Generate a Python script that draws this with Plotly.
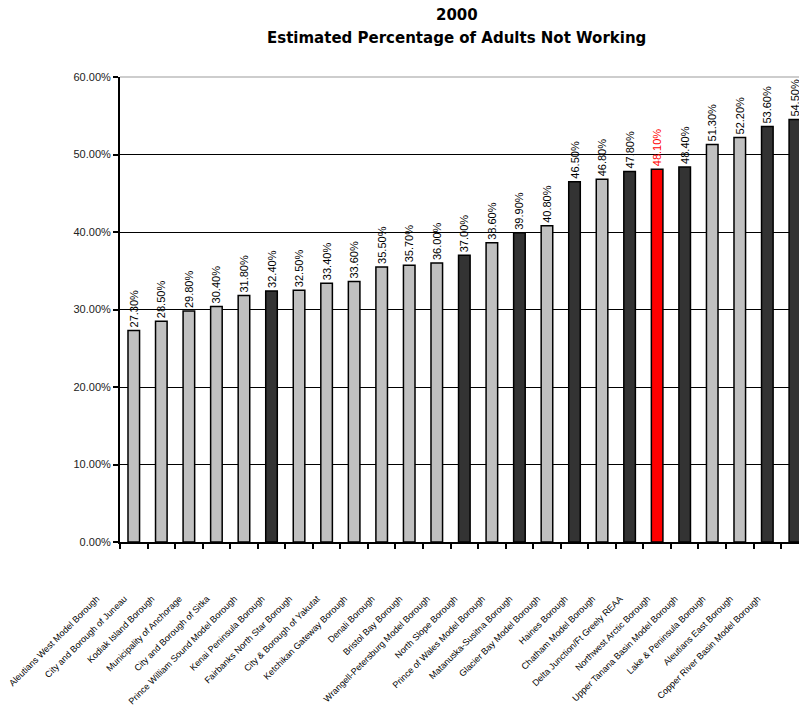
import plotly.graph_objects as go

# Census areas, ordered by share of adults not working (2000)
areas = [
    "Aleutians West Model Borough",
    "City and Borough of Juneau",
    "Kodiak Island Borough",
    "Municipality of Anchorage",
    "City and Borough of Sitka",
    "Prince William Sound Model Borough",
    "Kenai Peninsula Borough",
    "Fairbanks North Star Borough",
    "City & Borough of Yakutat",
    "Ketchikan Gateway Borough",
    "Denali Borough",
    "Bristol Bay Borough",
    "Wrangell-Petersburg Model Borough",
    "North Slope Borough",
    "Prince of Wales Model Borough",
    "Matanuska-Susitna Borough",
    "Glacier Bay Model Borough",
    "Haines Borough",
    "Chatham Model Borough",
    "Delta Junction/Ft Greely REAA",
    "Northwest Arctic Borough",
    "Upper Tanana Basin Model Borough",
    "Lake & Peninsula Borough",
    "Aleutians East Borough",
    "Copper River Basin Model Borough",
]

pct_not_working = [
    27.3, 28.5, 29.8, 30.4, 31.8, 32.4, 32.5, 33.4, 33.6, 35.5, 35.7, 36.0, 37.0,
    38.6, 39.9, 40.8, 46.5, 46.8, 47.8, 48.1, 48.4, 51.3, 52.2, 53.6, 54.5,
]

# L = light bar, D = dark bar, R = highlighted area
group = [
    "L", "L", "L", "L", "L", "D", "L", "L", "L", "L", "L", "L", "D",
    "L", "D", "L", "D", "L", "D", "R", "D", "L", "L", "D", "D",
]

bar_fill = {"L": "#C0C0C0", "D": "#333333", "R": "#FF0000"}
label_ink = {"L": "#000000", "D": "#000000", "R": "#FF0000"}

FONT = "Liberation Sans, Arial, sans-serif"

fig = go.Figure(
    go.Bar(
        x=areas,
        y=[v / 100 for v in pct_not_working],
        width=0.42,
        marker=dict(color=[bar_fill[g] for g in group],
                    line=dict(color="#000000", width=1.5)),
        text=[f"{v:.2f}%" for v in pct_not_working],
        textposition="outside",
        textangle=-90,
        constraintext="none",
        cliponaxis=True,
        textfont=dict(family=FONT, size=11, color=[label_ink[g] for g in group]),
        hoverinfo="x+y",
    )
)

fig.update_layout(
    width=799,
    height=706,
    margin=dict(l=120, r=0, t=77, b=164, pad=0),
    paper_bgcolor="#FFFFFF",
    plot_bgcolor="#FFFFFF",
    showlegend=False,
    xaxis=dict(
        type="category",
        range=[-0.5, 24.15],
        tickmode="array",
        tickvals=areas,
        ticktext=areas,
        tickson="boundaries",
        ticks="outside",
        ticklen=5,
        tickwidth=1.5,
        tickcolor="#000000",
        showline=True,
        linewidth=2,
        linecolor="#000000",
        showgrid=False,
        tickangle=-45,
        ticklabelshift=-37,
        ticklabelstandoff=46,
        tickfont=dict(family=FONT, size=9, color="#000000"),
        automargin=False,
        fixedrange=True,
    ),
    yaxis=dict(
        range=[0, 0.6],
        tick0=0,
        dtick=0.1,
        tickformat=".2%",
        showgrid=True,
        gridcolor="#000000",
        gridwidth=1,
        zeroline=False,
        showline=True,
        linewidth=2,
        linecolor="#000000",
        ticks="outside",
        ticklen=5,
        tickwidth=1.5,
        tickcolor="#000000",
        tickfont=dict(family=FONT, size=11, color="#222222"),
        automargin=False,
        fixedrange=True,
    ),
    shapes=[
        # light top edge of the plot area
        dict(type="line", xref="paper", yref="paper", x0=0, x1=1, y0=1, y1=1,
             line=dict(color="#BDBDBD", width=1.5), layer="above"),
    ],
    annotations=[
        dict(text="<b>2000</b>", xref="paper", yref="paper", x=0.4963, y=1.1333,
             xanchor="center", yanchor="middle", showarrow=False,
             font=dict(family="DejaVu Sans", size=15, color="#000000")),
        dict(text="<b>Estimated Percentage of Adults Not Working</b>",
             xref="paper", yref="paper", x=0.4963, y=1.0839,
             xanchor="center", yanchor="middle", showarrow=False,
             font=dict(family="DejaVu Sans", size=15, color="#000000")),
    ],
)

fig.write_html("out.html")
